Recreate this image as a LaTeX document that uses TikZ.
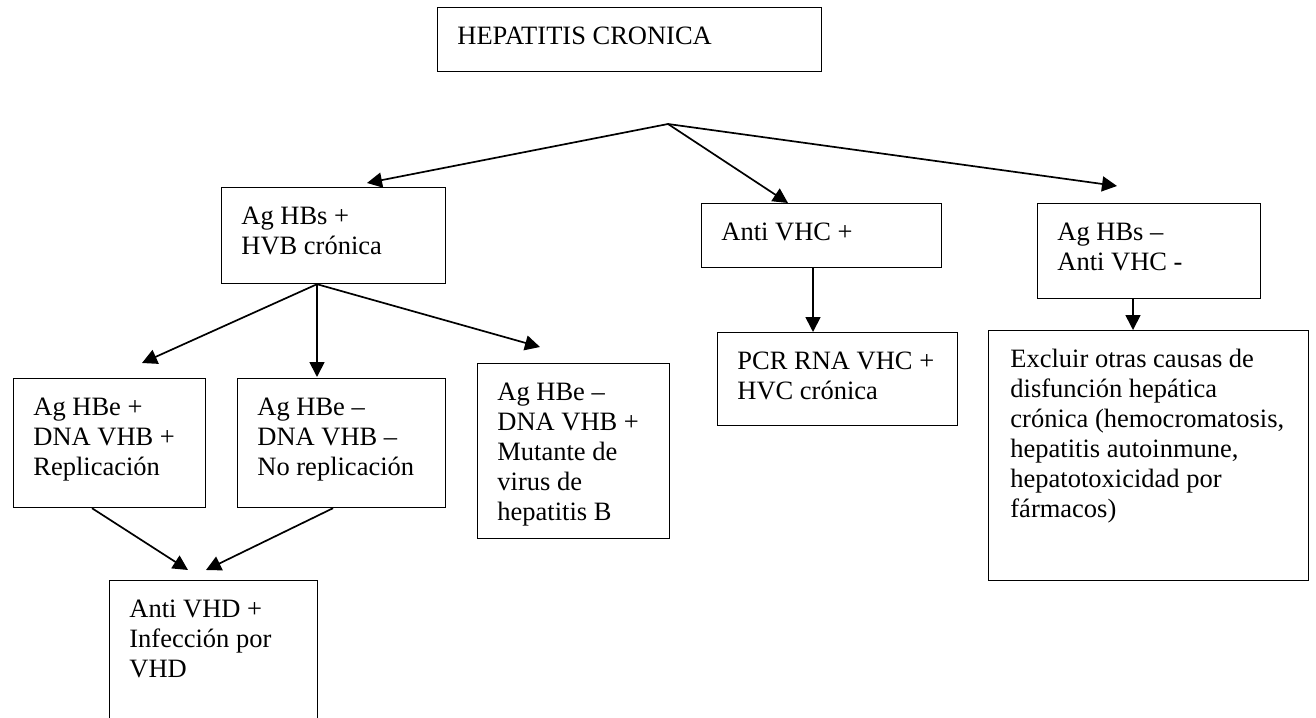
\documentclass[tikz,border=0pt]{standalone}
\usepackage{fontspec}
\setmainfont{Liberation Serif}
\usetikzlibrary{arrows.meta,calc}

% a framed box given by its top-left and bottom-right corners (in px units)
\newcommand\flowbox[5]{%
  \node[box,anchor=north west,
        minimum width={(#4-#2)*0.5pt},
        minimum height={(#5-#3)*0.5pt}] (#1) at (#2,#3) {};}
% the text of a box, first baseline 37px below the top edge
\newcommand\boxtext[2]{%
  \node[boxtxt] (#1-t) at ($(#1.north west)+(20,17)$) {\rule{0pt}{10pt}#2};}

\tikzset{
  box/.style={draw,line width=0.6pt,inner sep=0pt,rectangle},
  boxtxt/.style={anchor=north west,inner sep=0pt,align=left,
    font=\fontsize{13.25pt}{15pt}\selectfont},
  flow/.style={line width=0.85pt,-{Triangle[length=7.5pt,width=7.5pt]}}
}

\begin{document}
\begin{tikzpicture}[x=0.5pt,y=-0.5pt]
\useasboundingbox (0,0) rectangle (1316,717);
\clip (0,0) rectangle (1316,717);

% boxes
\flowbox{top}{437}{7}{821}{71}
\flowbox{hbsp}{221}{187}{445}{283}
\flowbox{vhcp}{701}{203}{941}{267}
\flowbox{hbsn}{1037}{203}{1260}{298}
\flowbox{hbep}{13}{378}{205}{507}
\flowbox{hben}{237}{378}{445}{507}
\flowbox{mut}{477}{363}{669}{538}
\flowbox{pcr}{717}{332}{957}{425}
\flowbox{excl}{988}{330}{1308}{580}
\flowbox{vhd}{109}{580}{317}{740}

% texts
\boxtext{top}{HEPATITIS CRONICA}
\boxtext{hbsp}{Ag HBs +\\HVB crónica}
\boxtext{vhcp}{Anti VHC +}
\boxtext{hbsn}{Ag HBs –\\Anti VHC -}
\boxtext{hbep}{Ag HBe +\\DNA VHB +\\Replicación}
\boxtext{hben}{Ag HBe –\\DNA VHB –\\No replicación}
\boxtext{mut}{Ag HBe –\\DNA VHB +\\Mutante de\\virus de\\hepatitis B}
\boxtext{pcr}{PCR RNA VHC +\\HVC crónica}
\node[boxtxt] (excl-t) at ($(excl.north west)+(22,17)$) {\rule{0pt}{10pt}Excluir otras causas de\\disfunción hepática\\crónica (hemocromatosis,\\hepatitis autoinmune,\\hepatotoxicidad por\\fármacos)};
\boxtext{vhd}{Anti VHD +\\Infección por\\VHD}

% branching points and arrow ends
\coordinate (j0) at (668,124);
\coordinate (j1) at ($(hbsp.south west)+(96,0)$);
\coordinate (t-hbsp) at ($(hbsp.north west)+(146,-4)$);
\coordinate (t-vhcp) at ($(vhcp.north west)+(87,0)$);
\coordinate (t-hbsn) at ($(hbsn.north west)+(80,-17)$);
\coordinate (t-hbep) at ($(hbep.north west)+(129,-15)$);
\coordinate (t-hben) at ($(hben.north west)+(80,-1)$);
\coordinate (t-mut)  at ($(mut.north west)+(63,-16)$);
\coordinate (s-vhcp) at ($(vhcp.south west)+(112,0)$);
\coordinate (s-hbsn) at ($(hbsn.south west)+(96,0)$);
\coordinate (s-hbep) at ($(hbep.south west)+(79,0)$);
\coordinate (s-hben) at ($(hben.south west)+(96,0)$);
\coordinate (t-vhd1) at ($(vhd.north west)+(79,-10)$);
\coordinate (t-vhd2) at ($(vhd.north west)+(97,-10)$);

% connectors
\draw[flow] (j0) -- (t-hbsp);
\draw[flow] (j0) -- (t-vhcp);
\draw[flow] (j0) -- (t-hbsn);
\draw[flow] (j1) -- (t-hbep);
\draw[flow] (j1) -- (t-hben);
\draw[flow] (j1) -- (t-mut);
\draw[flow] (s-vhcp) -- (s-vhcp |- pcr.north);
\draw[flow] (s-hbsn) -- (s-hbsn |- excl.north);
\draw[flow] (s-hbep) -- (t-vhd1);
\draw[flow] (s-hben) -- (t-vhd2);
\end{tikzpicture}
\end{document}
